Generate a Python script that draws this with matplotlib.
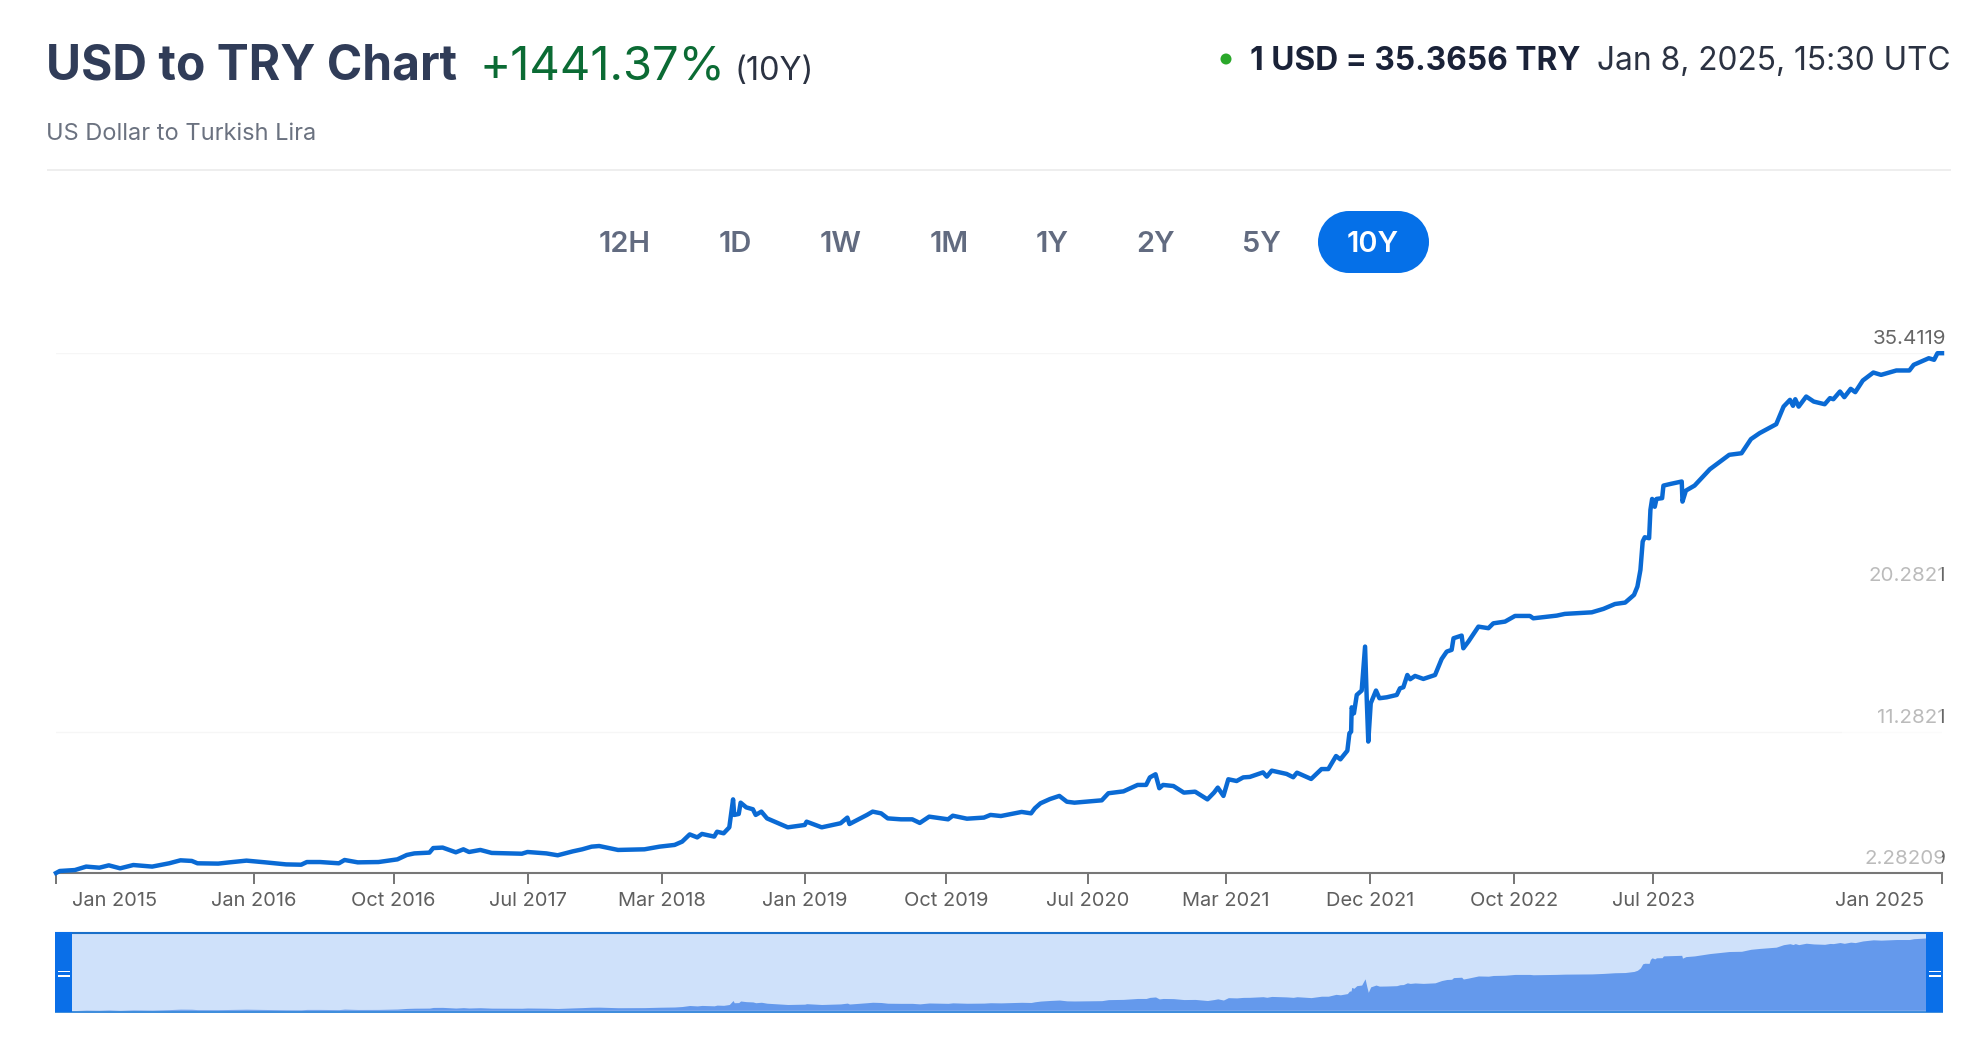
import matplotlib
matplotlib.use("Agg")
import matplotlib.pyplot as plt
from matplotlib.patches import Rectangle, Circle
from matplotlib.transforms import ScaledTranslation

plt.rcParams['font.family'] = ['Inter', 'DejaVu Sans']

years = [2015.02,2015.04,2015.12,2015.18,2015.25,2015.30,2015.36,2015.43,2015.53,2015.62,2015.68,2015.74,2015.77,2015.88,2015.94,
2016.03,2016.13,2016.24,2016.32,2016.35,2016.42,2016.52,2016.55,2016.62,2016.73,2016.83,2016.88,2016.92,2017.00,2017.02,2017.07,
2017.14,2017.18,2017.21,2017.27,2017.33,2017.49,2017.52,2017.62,2017.68,2017.76,2017.81,2017.86,2017.90,2018.00,2018.14,2018.22,
2018.30,2018.34,2018.38,2018.42,2018.445,2018.51,2018.525,2018.56,2018.59,2018.60,2018.61,2018.616,2018.64,2018.65,2018.68,2018.715,
2018.73,2018.76,2018.79,2018.85,2018.90,2018.99,2019.00,2019.08,2019.18,2019.216,2019.227,2019.32,2019.35,2019.395,2019.43,2019.50,
2019.56,2019.60,2019.65,2019.75,2019.775,2019.85,2019.94,2019.975,2020.03,2020.14,2020.19,2020.21,2020.24,2020.29,2020.34,2020.38,
2020.42,2020.565,2020.60,2020.68,2020.755,2020.80,2020.82,2020.85,2020.87,2020.89,2020.945,2021.00,2021.06,2021.125,2021.16,2021.18,
2021.21,2021.236,2021.28,2021.315,2021.35,2021.42,2021.44,2021.466,2021.545,2021.58,2021.60,2021.675,2021.73,2021.766,2021.807,2021.83,
2021.867,2021.878,2021.887,2021.89,2021.902,2021.917,2021.943,2021.961,2021.97,2021.978,2021.991,2022.019,2022.037,2022.076,2022.129,
2022.146,2022.164,2022.185,2022.20,2022.226,2022.27,2022.332,2022.367,2022.394,2022.42,2022.43,2022.473,2022.482,2022.509,2022.562,
2022.615,2022.641,2022.703,2022.756,2022.835,2022.853,2022.977,2023.02,2023.163,2023.225,2023.286,2023.34,2023.387,2023.405,2023.421,
2023.433,2023.444,2023.467,2023.474,2023.483,2023.497,2023.506,2023.536,2023.543,2023.582,2023.64,2023.644,2023.662,2023.708,2023.789,
2023.892,2023.957,2024.007,2024.053,2024.141,2024.18,2024.214,2024.23,2024.242,2024.26,2024.30,2024.34,2024.398,2024.426,2024.444,
2024.479,2024.502,2024.536,2024.56,2024.60,2024.656,2024.697,2024.778,2024.847,2024.87,2024.95,2024.978,2024.996,2025.02]
rates = [2.28,2.41,2.47,2.69,2.62,2.77,2.58,2.79,2.69,2.90,3.09,3.05,2.90,2.88,2.96,
3.07,2.96,2.83,2.81,2.98,2.98,2.90,3.11,2.96,2.98,3.15,3.43,3.53,3.58,3.87,3.90,
3.60,3.79,3.62,3.75,3.56,3.51,3.62,3.53,3.41,3.66,3.79,3.96,4.00,3.75,3.79,3.96,
4.07,4.28,4.74,4.55,4.77,4.60,4.91,4.81,5.19,6.08,6.97,5.98,6.04,6.76,6.46,6.34,
5.98,6.19,5.76,5.45,5.19,5.34,5.55,5.19,5.45,5.81,5.40,5.98,6.19,6.08,5.76,5.70,
5.70,5.47,5.87,5.70,5.93,5.74,5.81,5.98,5.91,6.17,6.08,6.40,6.72,6.99,7.19,6.82,
6.76,6.91,7.36,7.48,7.89,7.89,8.37,8.57,7.68,7.89,7.82,7.40,7.46,6.97,7.40,7.72,
7.19,8.25,8.14,8.37,8.40,8.69,8.42,8.80,8.59,8.38,8.67,8.27,8.90,8.90,9.73,9.52,
10.07,11.18,11.28,12.83,12.45,13.62,13.90,16.70,13.30,10.65,13.09,13.90,13.41,13.47,13.62,
14.04,14.11,14.89,14.62,14.83,14.64,14.89,15.91,16.38,16.49,17.23,17.40,16.59,17.02,17.97,
17.87,18.18,18.29,18.65,18.65,18.50,18.67,18.78,18.88,19.10,19.41,19.50,19.99,20.52,21.58,
23.39,23.66,23.60,25.40,26.10,25.60,26.10,26.15,26.95,27.06,27.21,25.93,26.63,26.95,27.99,
28.91,29.01,29.91,30.29,30.86,31.98,32.41,32.03,32.45,31.98,32.62,32.30,32.13,32.52,32.45,
32.94,32.58,33.11,32.90,33.64,34.15,34.00,34.28,34.28,34.64,35.06,34.96,35.38,35.38]

tick_years = [2015.02,2016.07,2016.81,2017.52,2018.233,2018.99,2019.74,2020.49,2021.224,2021.987,2022.75,2023.49,2025.02]
tick_labels = ["Jan 2015","Jan 2016","Oct 2016","Jul 2017","Mar 2018","Jan 2019","Oct 2019","Jul 2020","Mar 2021","Dec 2021","Oct 2022","Jul 2023","Jan 2025"]
y_values = [2.28209,11.2821,20.2821,35.4119]
y_labels = ["2.28209","11.2821","20.2821","35.4119"]
grid_values = [11.2821,35.4119]
ranges = ["12H","1D","1W","1M","1Y","2Y","5Y","10Y"]
range_x = [624.5,735,841,949,1052.5,1156,1261.5,1373]

W,H = 1980,1042
fig = plt.figure(figsize=(W/100,H/100),dpi=100,facecolor='white')
def px(l,t,r,b):
    return [l/W,(H-b)/H,(r-l)/W,(b-t)/H]

ov = fig.add_axes([0,0,1,1],zorder=0)
ov.set_xlim(0,W); ov.set_ylim(H,0); ov.axis('off')
def fs(p): return p*0.72

ov.text(46.3,79.5,"USD to TRY Chart",fontsize=fs(48),fontweight='bold',color='#303c58',va='baseline')
ov.text(480,79.5,"+1441.37%",fontsize=fs(47.2),color='#0b6b34',va='baseline')
ov.text(735,79.5,"(10Y)",fontsize=fs(32.5),color='#2b3242',va='baseline')
ov.text(46,139.5,"US Dollar to Turkish Lira",fontsize=fs(23.6),color='#6b7280',va='baseline')
ov.plot([47,1951],[170,170],color='#eeeeee',lw=1.4,solid_capstyle='butt')
ov.add_patch(Circle((1226,59),5.5,color='#2aa82a',lw=0))
ov.text(1250,69.5,"1 USD = 35.3656 TRY",fontsize=fs(31.7),fontweight='bold',color='#1a2238',va='baseline')
ov.text(1951,69.5,"Jan 8, 2025, 15:30 UTC",fontsize=fs(31.7),color='#2b3242',va='baseline',ha='right')
ov.add_patch(Rectangle((1349,211),49,62,fc='#0570e8',ec='none'))
ov.add_patch(Circle((1349,242),31,fc='#0570e8',ec='none'))
ov.add_patch(Circle((1398,242),31,fc='#0570e8',ec='none'))
for r,x in zip(ranges,range_x):
    ov.text(x,252,r,fontsize=fs(29),fontweight='semibold',ha='center',va='baseline',
            color='white' if r=="10Y" else '#626b80')

ax = fig.add_axes(px(56,352.7,1942,873),zorder=2)
ax.patch.set_alpha(0)
ax.set_xlim(2015.02,2025.02); ax.set_ylim(2.28209,35.4119)
for s in ['top','left','right']: ax.spines[s].set_visible(False)
ax.spines['bottom'].set_color('#777777'); ax.spines['bottom'].set_linewidth(1.5)
ax.set_yticks([])
for v in grid_values:
    ax.plot([2015.02,2025.02],[v,v],color='#f6f6f6',lw=0.9,zorder=1)
ax.plot(years,rates,color='#0a6ad4',lw=3.2,clip_on=False,zorder=3,solid_joinstyle='round')
ax.set_xticks(tick_years)
ax.set_xticklabels(tick_labels,fontsize=fs(20),color='#5f5f5f')
ax.tick_params(axis='x',length=8,width=1.44,color='#777777',pad=6)
labs = ax.get_xticklabels()
labs[0].set_ha('left'); labs[0].set_transform(labs[0].get_transform()+ScaledTranslation(16/100,0,fig.dpi_scale_trans))
labs[-1].set_ha('right'); labs[-1].set_transform(labs[-1].get_transform()+ScaledTranslation(-18/100,0,fig.dpi_scale_trans))
for v,l in zip(y_values,y_labels):
    ax.annotate(l,xy=(1,v),xycoords=('axes fraction','data'),xytext=(4,9),textcoords='offset pixels',
                ha='right',va='baseline',fontsize=fs(20.5),color='#666666',annotation_clip=False,zorder=4)
# the plot area washes out the lower labels up to its right edge
ax.add_patch(Rectangle((1842,550),100,320,transform=ov.transData,fc='white',ec='none',alpha=0.56,clip_on=False,zorder=5))

nav = fig.add_axes(px(56,932,1942,1012),zorder=3)
nav.set_xlim(2015.02,2025.02); nav.set_ylim(1.83,37.65)
nav.set_facecolor('#cfe1fa'); nav.set_xticks([]); nav.set_yticks([])
for s in nav.spines.values(): s.set_visible(False)
nav.fill_between(years,2.28209,rates,color='#6499ec',lw=0)
t = ov.transData
nav.plot([55,1943],[1011,1011],color='white',lw=0.9,transform=t,clip_on=False)
nav.plot([55,1943],[932.5,932.5],color='#1a6fc9',lw=1.5,transform=t,clip_on=False,solid_capstyle='butt')
nav.plot([55,1943],[1012,1012],color='#1a78d6',lw=1.2,transform=t,clip_on=False,solid_capstyle='butt')
for l in (55,1926):
    nav.add_patch(Rectangle((l,932),17,80,transform=t,fc='#0a6fe8',ec='none',clip_on=False,zorder=5))
    for yy in (970.5,975):
        nav.add_patch(Rectangle((l+3,yy),12,1.8,transform=t,fc='white',ec='none',clip_on=False,zorder=6))

fig.savefig('out.png',dpi=100)
